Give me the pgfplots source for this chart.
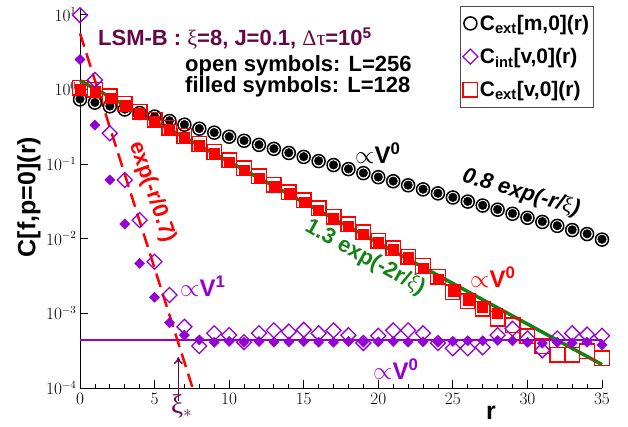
\documentclass[border=0pt]{standalone}
\usepackage{pgfplots}
\pgfplotsset{compat=1.18}
\usetikzlibrary{arrows.meta}
\usepackage{fontspec}
\setmainfont{Liberation Sans}
\newfontfamily\sym{Liberation Serif}
\definecolor{maroonx}{RGB}{103,7,72}
\definecolor{violetx}{RGB}{148,0,211}
\definecolor{greenx}{RGB}{20,130,20}
\begin{document}
\begin{tikzpicture}[x=1pt,y=1pt]
\path[use as bounding box] (0,0) rectangle (628,427);
\begin{axis}[
  at={(80pt,39pt)}, anchor=south west,
  scale only axis, width=522pt, height=379.4pt,
  xmin=0, xmax=35, ymode=log, ymin=1e-4, ymax=12,
  axis lines=left, axis line style={-, line width=1pt},
  clip=false,
  xtick={0,5,...,35}, minor x tick num=4,
  ytick={1e-4,1e-3,1e-2,1e-1,1,10},
  yminorticks=false,
  tick align=inside,
  major tick length=8pt, minor tick length=4pt,
  tick style={line width=0.8pt, black},
  ticklabel style={font=\fontsize{16}{19}\selectfont},
  xticklabel style={yshift=-2pt},
  legend style={at={(axis description cs:0.984,1.008)}, anchor=north east,
    draw=black!70, line width=1pt, fill=white,
    font=\fontsize{21}{25}\selectfont\bfseries, cells={anchor=west},
    row sep=12.5pt, inner xsep=2pt, inner ysep=7pt},
  legend cell align=left,
]
% guide lines
\addplot[violetx, line width=2pt, forget plot] coordinates {(0,4.4e-4) (35,4.4e-4)};
\addplot[greenx, line width=3.5pt, forget plot] coordinates {(0,1.3) (35,2.06e-4)};
% C_ext[m,0] open (L=256)
\addplot[only marks, mark=o, mark size=6.5pt, mark options={black, line width=1.5pt}, forget plot] coordinates {
(0,0.73) (1,0.66) (2,0.59) (3,0.535) (4,0.48) (5,0.43) (6,0.375) (7,0.335) (8,0.296) (9,0.262)
(10,0.231) (11,0.204) (12,0.180) (13,0.159) (14,0.140) (15,0.124) (16,0.109) (17,0.0965) (18,0.0852) (19,0.0752)
(20,0.0664) (21,0.0586) (22,0.0517) (23,0.0456) (24,0.0403) (25,0.0355) (26,0.0313) (27,0.0277) (28,0.0244) (29,0.0215)
(30,0.0190) (31,0.0167) (32,0.0148) (33,0.0130) (34,0.0115) (35,0.0097)};
% C_ext[m,0] filled (L=128)
\addplot[only marks, mark=*, mark size=4.3pt, mark options={black, fill=black}, forget plot] coordinates {
(0,0.74) (1,0.665) (2,0.595) (3,0.54) (4,0.485) (5,0.432) (6,0.378) (7,0.336) (8,0.298) (9,0.263)
(10,0.232) (11,0.205) (12,0.181) (13,0.160) (14,0.141) (15,0.125) (16,0.110) (17,0.0970) (18,0.0856) (19,0.0756)
(20,0.0667) (21,0.0589) (22,0.0520) (23,0.0459) (24,0.0405) (25,0.0357) (26,0.0315) (27,0.0279) (28,0.0246) (29,0.0217)
(30,0.0192) (31,0.0169) (32,0.0149) (33,0.0131) (34,0.0116) (35,0.0098)};
% C_ext[v,0] open (L=256)
\addplot[only marks, mark=square, mark size=7.3pt, mark options={red, line width=1.4pt}, forget plot] coordinates {
(0,1.05) (1,0.98) (2,0.80) (3,0.64) (4,0.50) (5,0.39) (6,0.305) (7,0.237) (8,0.185) (9,0.144)
(10,0.112) (11,0.087) (12,0.068) (13,0.053) (14,0.0415) (15,0.0325) (16,0.0253) (17,0.0197) (18,0.0155) (19,0.0121)
(20,0.0094) (21,0.0074) (22,0.0057) (23,0.0043) (24,0.0031) (25,0.0019) (26,0.00145) (27,0.00115) (28,8.5e-4) (29,6.9e-4)
(30,4.9e-4) (31,3.6e-4) (32,2.8e-4) (33,2.8e-4) (34,3.1e-4) (35,2.5e-4)};
% C_ext[v,0] filled (L=128)
\addplot[only marks, mark=square*, mark size=5pt, mark options={red, fill=red}, forget plot] coordinates {
(0,1.00) (1,0.93) (2,0.76) (3,0.61) (4,0.48) (5,0.37) (6,0.29) (7,0.225) (8,0.176) (9,0.137)
(10,0.107) (11,0.083) (12,0.065) (13,0.050) (14,0.040) (15,0.031) (16,0.024) (17,0.0188) (18,0.0148) (19,0.0116)
(20,0.0090) (21,0.0072) (22,0.0056) (23,0.0040) (24,0.0029) (25,0.0020) (26,0.00150) (27,0.00122) (28,0.00100)};
% C_int[v,0] open (L=256)
\addplot[only marks, mark=square, mark size=5.3pt, mark options={violetx, line width=1.3pt, rotate=45}, forget plot] coordinates {
(0,9.8) (1,1.33) (2,0.257) (3,0.061) (4,0.0177) (5,0.0049) (6,0.00176) (7,6.6e-4) (8,3.65e-4) (9,5.4e-4)
(10,5.1e-4) (11,4.1e-4) (12,5.4e-4) (13,5.9e-4) (14,5.7e-4) (15,6.0e-4) (16,5.4e-4) (17,5.9e-4) (18,5.1e-4) (19,4.0e-4)
(20,5.0e-4) (21,5.9e-4) (22,5.9e-4) (23,5.4e-4) (24,4.0e-4) (25,3.4e-4) (26,3.4e-4) (27,3.5e-4) (28,5.1e-4) (29,6.2e-4)
(30,4.6e-4) (31,3.2e-4) (32,4.6e-4) (33,5.4e-4) (34,5.2e-4) (35,5.0e-4)};
% C_int[v,0] filled (L=128)
\addplot[only marks, mark=square*, mark size=3.6pt, mark options={violetx, fill=violetx, rotate=45}, forget plot] coordinates {
(0,2.5) (1,0.33) (2,0.061) (3,0.0157) (4,0.00467) (5,0.00164) (6,7.5e-4) (7,5.1e-4) (8,4.4e-4) (9,4.1e-4)
(10,4.2e-4) (11,4.1e-4) (12,4.2e-4) (13,4.1e-4) (14,4.15e-4) (15,4.2e-4) (16,4.1e-4) (17,4.1e-4) (18,4.2e-4) (19,4.1e-4)
(20,4.15e-4) (21,4.2e-4) (22,4.1e-4) (23,4.15e-4) (24,4.1e-4) (25,4.2e-4) (26,4.3e-4) (27,4.3e-4) (28,4.35e-4) (29,4.3e-4)
(30,4.1e-4) (31,4.0e-4) (32,4.1e-4) (33,4.0e-4) (34,4.1e-4) (35,3.8e-4)};
% exp(-r/0.7) guide
\addplot[red, line width=2.5pt, dash pattern=on 14pt off 7pt, forget plot] coordinates {(0,5.6) (7.55,1e-4)};
% legend
\addlegendimage{only marks, mark=o, mark size=6.5pt, mark options={black, line width=1.5pt}}
\addlegendentry{C\textsubscript{ext}[m,0](r)}
\addlegendimage{only marks, mark=square, mark size=5.3pt, mark options={violetx, line width=1.3pt, rotate=45}}
\addlegendentry{C\textsubscript{int}[v,0](r)}
\addlegendimage{only marks, mark=square, mark size=7.3pt, mark options={red, line width=1.4pt}}
\addlegendentry{C\textsubscript{ext}[v,0](r)}
\end{axis}
% annotations (picture coordinates, 1pt = 1px)
\node[anchor=base west, text=maroonx, font=\fontsize{22}{26}\selectfont\bfseries, inner sep=0pt] at (98,381)
  {LSM-B : {\sym\mdseries ξ}=8, J=0.1, {\sym\mdseries Δτ}=10\textsuperscript{5}};
\node[anchor=base west, font=\fontsize{22}{26}\selectfont\bfseries, inner sep=0pt] at (185,355) {open symbols: L=256};
\node[anchor=base west, font=\fontsize{22}{26}\selectfont\bfseries, inner sep=0pt] at (185,334) {filled symbols: L=128};
\node[anchor=base west, font=\fontsize{24}{28}\selectfont\bfseries, inner sep=0pt] at (355,263) {$\propto$V\textsuperscript{0}};
\node[rotate=-16, font=\fontsize{22}{26}\selectfont\bfseries\itshape, inner sep=0pt] at (521,234) {0.8 exp(-r/{\sym\mdseries\upshape ξ})};
\node[rotate=-29, text=greenx, font=\fontsize{22}{26}\selectfont\bfseries, inner sep=0pt] at (365,169) {1.3 exp(-2r/{\sym\mdseries ξ})};
\node[rotate=-71, text=red, font=\fontsize{22}{26}\selectfont\bfseries, inner sep=0pt] at (152,235) {exp(-r/0.7)};
\node[anchor=base west, text=violetx, font=\fontsize{24}{28}\selectfont\bfseries, inner sep=0pt] at (180,130) {$\propto$V\textsuperscript{1}};
\node[anchor=base west, text=red, font=\fontsize{24}{28}\selectfont\bfseries, inner sep=0pt] at (470,139) {$\propto$V\textsuperscript{0}};
\node[anchor=base west, text=violetx, font=\fontsize{24}{28}\selectfont\bfseries, inner sep=0pt] at (373,47) {$\propto$V\textsuperscript{0}};
\node[anchor=base west, text=maroonx, font=\fontsize{27}{30}\selectfont, inner sep=0pt] at (171,13) {{\sym ξ}$_{*}$};
\draw[maroonx, line width=1.5pt, -{To[length=7pt,width=9pt]}] (178.3,26) -- (178.3,70);
\node[font=\fontsize{25}{30}\selectfont\bfseries] at (491,14) {r};
\node[rotate=90, font=\fontsize{25}{30}\selectfont\bfseries] at (29,230) {C[f,p=0](r)};
\end{tikzpicture}
\end{document}
